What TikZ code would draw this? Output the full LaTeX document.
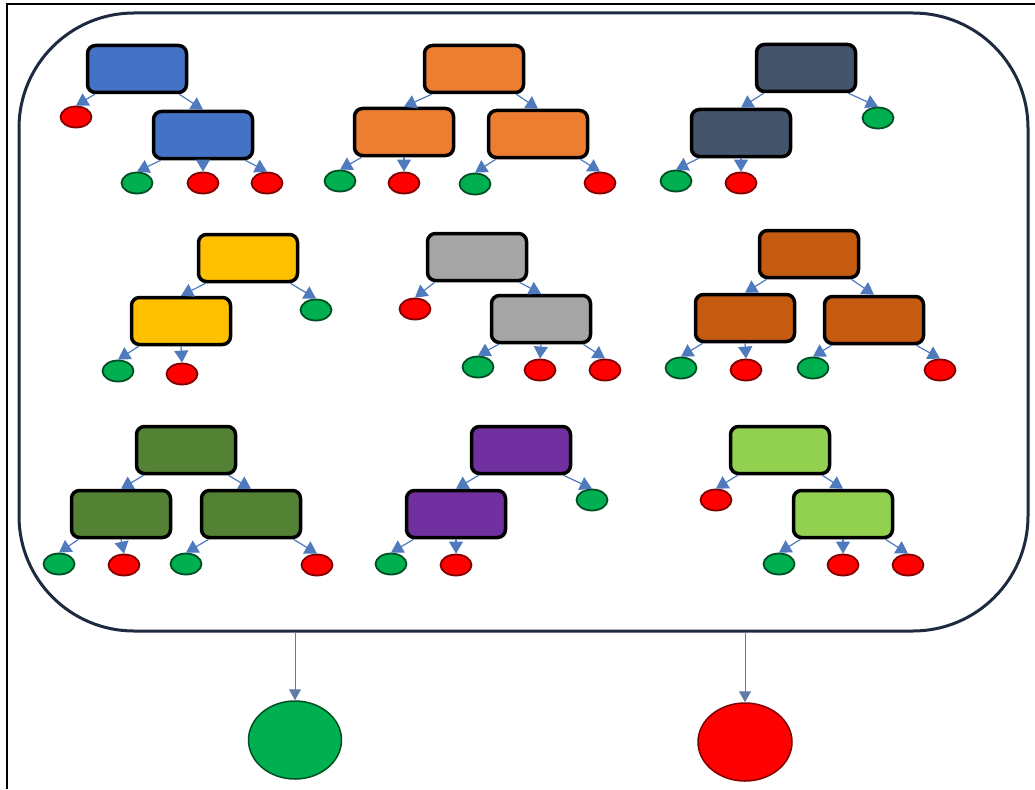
\documentclass[tikz,border=0pt]{standalone}
\usepackage{tikz}
\usetikzlibrary{arrows.meta,shapes.geometric}
\definecolor{navy}{RGB}{30,42,64}
\definecolor{link}{RGB}{79,122,190}
\definecolor{cblue}{HTML}{4472C4}
\definecolor{corange}{HTML}{ED7D31}
\definecolor{cslate}{HTML}{44546A}
\definecolor{cyellow}{HTML}{FFC000}
\definecolor{cgray}{HTML}{A5A5A5}
\definecolor{cbrown}{HTML}{C55A11}
\definecolor{cdkgreen}{HTML}{548235}
\definecolor{cpurple}{HTML}{7030A0}
\definecolor{cltgreen}{HTML}{92D050}
\definecolor{yes}{HTML}{00B050}
\definecolor{no}{HTML}{FF0000}
\tikzset{
  treebox/.style={draw=black,line width=3.5pt,rounded corners=8pt,
                  minimum width=99pt,minimum height=47pt,inner sep=0pt},
  leaf/.style={ellipse,line width=1.8pt,minimum width=31pt,
               minimum height=21pt,inner sep=0pt},
  yesleaf/.style={leaf,fill=yes,draw=yes!45!black},
  noleaf/.style={leaf,fill=no,draw=no!50!black},
  arr/.style={draw=link,line width=1.2pt,
              -{Triangle[width=14pt,length=12pt]},fill=link},
  vote/.style={draw=link!60!gray,line width=1pt,
               -{Triangle[width=12pt,length=11pt]}},
  frame/.style={draw=navy,line width=3pt,rounded corners=115pt,
                minimum width=1009pt,minimum height=618pt,inner sep=0pt}
}
\begin{document}
\begin{tikzpicture}[x=1pt,y=-1pt]
  \useasboundingbox (0,0) rectangle (1035,789);
  \draw[line width=2pt] (7,789) -- (7,4) -- (1035,4);
  \node[frame] (forest) at (523.5,322) {};

  % tree 1
  \node[treebox,fill=cblue] (blueA) at (137,69) {};
  \node[treebox,fill=cblue] (blueB) at (203,135) {};
  \node[noleaf] (blueL1) at (76,117) {};
  \node[yesleaf] (blueL2) at (137,183) {};
  \node[noleaf] (blueL3) at (203,183) {};
  \node[noleaf] (blueL4) at (267,183) {};
  \draw[arr] ([xshift=9pt]blueA.south west) -- (blueL1.north);
  \draw[arr] ([xshift=-9pt]blueA.south east) -- (blueB.north);
  \draw[arr] ([xshift=9pt]blueB.south west) -- (blueL2.north);
  \draw[arr] (blueB.south) -- (blueL3.north);
  \draw[arr] ([xshift=-9pt]blueB.south east) -- (blueL4.north);

  % tree 2
  \node[treebox,fill=corange] (orangeA) at (474,69) {};
  \node[treebox,fill=corange] (orangeB) at (404,132) {};
  \node[treebox,fill=corange] (orangeC) at (538,134) {};
  \node[yesleaf] (orangeL1) at (340,181) {};
  \node[noleaf] (orangeL2) at (404,183) {};
  \node[yesleaf] (orangeL3) at (475,184) {};
  \node[noleaf] (orangeL4) at (600,183) {};
  \draw[arr] ([xshift=9pt]orangeA.south west) -- (orangeB.north);
  \draw[arr] ([xshift=-9pt]orangeA.south east) -- (orangeC.north);
  \draw[arr] ([xshift=9pt]orangeB.south west) -- (orangeL1.north);
  \draw[arr] (orangeB.south) -- (orangeL2.north);
  \draw[arr] ([xshift=9pt]orangeC.south west) -- (orangeL3.north);
  \draw[arr] ([xshift=-9pt]orangeC.south east) -- (orangeL4.north);

  % tree 3
  \node[treebox,fill=cslate] (slateA) at (806,68) {};
  \node[treebox,fill=cslate] (slateB) at (741,133) {};
  \node[yesleaf] (slateL1) at (878,118) {};
  \node[yesleaf] (slateL2) at (676,181) {};
  \node[noleaf] (slateL3) at (741,183) {};
  \draw[arr] ([xshift=9pt]slateA.south west) -- (slateB.north);
  \draw[arr] ([xshift=-9pt]slateA.south east) -- (slateL1.north);
  \draw[arr] ([xshift=9pt]slateB.south west) -- (slateL2.north);
  \draw[arr] (slateB.south) -- (slateL3.north);

  % tree 4
  \node[treebox,fill=cyellow] (yellowA) at (248,258) {};
  \node[treebox,fill=cyellow] (yellowB) at (181,321) {};
  \node[yesleaf] (yellowL1) at (316,310) {};
  \node[yesleaf] (yellowL2) at (118,371) {};
  \node[noleaf] (yellowL3) at (182,374) {};
  \draw[arr] ([xshift=9pt]yellowA.south west) -- (yellowB.north);
  \draw[arr] ([xshift=-9pt]yellowA.south east) -- (yellowL1.north);
  \draw[arr] ([xshift=9pt]yellowB.south west) -- (yellowL2.north);
  \draw[arr] (yellowB.south) -- (yellowL3.north);

  % tree 5
  \node[treebox,fill=cgray] (grayA) at (477,257) {};
  \node[treebox,fill=cgray] (grayB) at (541,319) {};
  \node[noleaf] (grayL1) at (415,309) {};
  \node[yesleaf] (grayL2) at (478,367) {};
  \node[noleaf] (grayL3) at (540,370) {};
  \node[noleaf] (grayL4) at (605,370) {};
  \draw[arr] ([xshift=9pt]grayA.south west) -- (grayL1.north);
  \draw[arr] ([xshift=-9pt]grayA.south east) -- (grayB.north);
  \draw[arr] ([xshift=9pt]grayB.south west) -- (grayL2.north);
  \draw[arr] (grayB.south) -- (grayL3.north);
  \draw[arr] ([xshift=-9pt]grayB.south east) -- (grayL4.north);

  % tree 6
  \node[treebox,fill=cbrown] (brownA) at (809,254) {};
  \node[treebox,fill=cbrown] (brownB) at (745,318) {};
  \node[treebox,fill=cbrown] (brownC) at (874,320) {};
  \node[yesleaf] (brownL1) at (681,368) {};
  \node[noleaf] (brownL2) at (746,370) {};
  \node[yesleaf] (brownL3) at (813,368) {};
  \node[noleaf] (brownL4) at (940,370) {};
  \draw[arr] ([xshift=9pt]brownA.south west) -- (brownB.north);
  \draw[arr] ([xshift=-9pt]brownA.south east) -- (brownC.north);
  \draw[arr] ([xshift=9pt]brownB.south west) -- (brownL1.north);
  \draw[arr] (brownB.south) -- (brownL2.north);
  \draw[arr] ([xshift=9pt]brownC.south west) -- (brownL3.north);
  \draw[arr] ([xshift=-9pt]brownC.south east) -- (brownL4.north);

  % tree 7
  \node[treebox,fill=cdkgreen] (dkgreenA) at (186,450) {};
  \node[treebox,fill=cdkgreen] (dkgreenB) at (121,514) {};
  \node[treebox,fill=cdkgreen] (dkgreenC) at (251,514) {};
  \node[yesleaf] (dkgreenL1) at (59,564) {};
  \node[noleaf] (dkgreenL2) at (124,565) {};
  \node[yesleaf] (dkgreenL3) at (186,564) {};
  \node[noleaf] (dkgreenL4) at (317,565) {};
  \draw[arr] ([xshift=9pt]dkgreenA.south west) -- (dkgreenB.north);
  \draw[arr] ([xshift=-9pt]dkgreenA.south east) -- (dkgreenC.north);
  \draw[arr] ([xshift=9pt]dkgreenB.south west) -- (dkgreenL1.north);
  \draw[arr] (dkgreenB.south) -- (dkgreenL2.north);
  \draw[arr] ([xshift=9pt]dkgreenC.south west) -- (dkgreenL3.north);
  \draw[arr] ([xshift=-9pt]dkgreenC.south east) -- (dkgreenL4.north);

  % tree 8
  \node[treebox,fill=cpurple] (purpleA) at (521,450) {};
  \node[treebox,fill=cpurple] (purpleB) at (456,514) {};
  \node[yesleaf] (purpleL1) at (592,500) {};
  \node[yesleaf] (purpleL2) at (391,564) {};
  \node[noleaf] (purpleL3) at (456,565) {};
  \draw[arr] ([xshift=9pt]purpleA.south west) -- (purpleB.north);
  \draw[arr] ([xshift=-9pt]purpleA.south east) -- (purpleL1.north);
  \draw[arr] ([xshift=9pt]purpleB.south west) -- (purpleL2.north);
  \draw[arr] (purpleB.south) -- (purpleL3.north);

  % tree 9
  \node[treebox,fill=cltgreen] (ltgreenA) at (780,450) {};
  \node[treebox,fill=cltgreen] (ltgreenB) at (843,514) {};
  \node[noleaf] (ltgreenL1) at (716,500) {};
  \node[yesleaf] (ltgreenL2) at (779,564) {};
  \node[noleaf] (ltgreenL3) at (843,565) {};
  \node[noleaf] (ltgreenL4) at (908,565) {};
  \draw[arr] ([xshift=9pt]ltgreenA.south west) -- (ltgreenL1.north);
  \draw[arr] ([xshift=-9pt]ltgreenA.south east) -- (ltgreenB.north);
  \draw[arr] ([xshift=9pt]ltgreenB.south west) -- (ltgreenL2.north);
  \draw[arr] (ltgreenB.south) -- (ltgreenL3.north);
  \draw[arr] ([xshift=-9pt]ltgreenB.south east) -- (ltgreenL4.north);

  % final vote
  \node[yesleaf,line width=1.5pt,minimum width=93pt,minimum height=78pt] (yesvote) at (295,740) {};
  \node[noleaf,line width=1.5pt,minimum width=94pt,minimum height=78pt] (novote) at (745,742) {};
  \draw[vote] (forest.south -| yesvote) -- (yesvote.north);
  \draw[vote] (forest.south -| novote) -- (novote.north);
\end{tikzpicture}
\end{document}
